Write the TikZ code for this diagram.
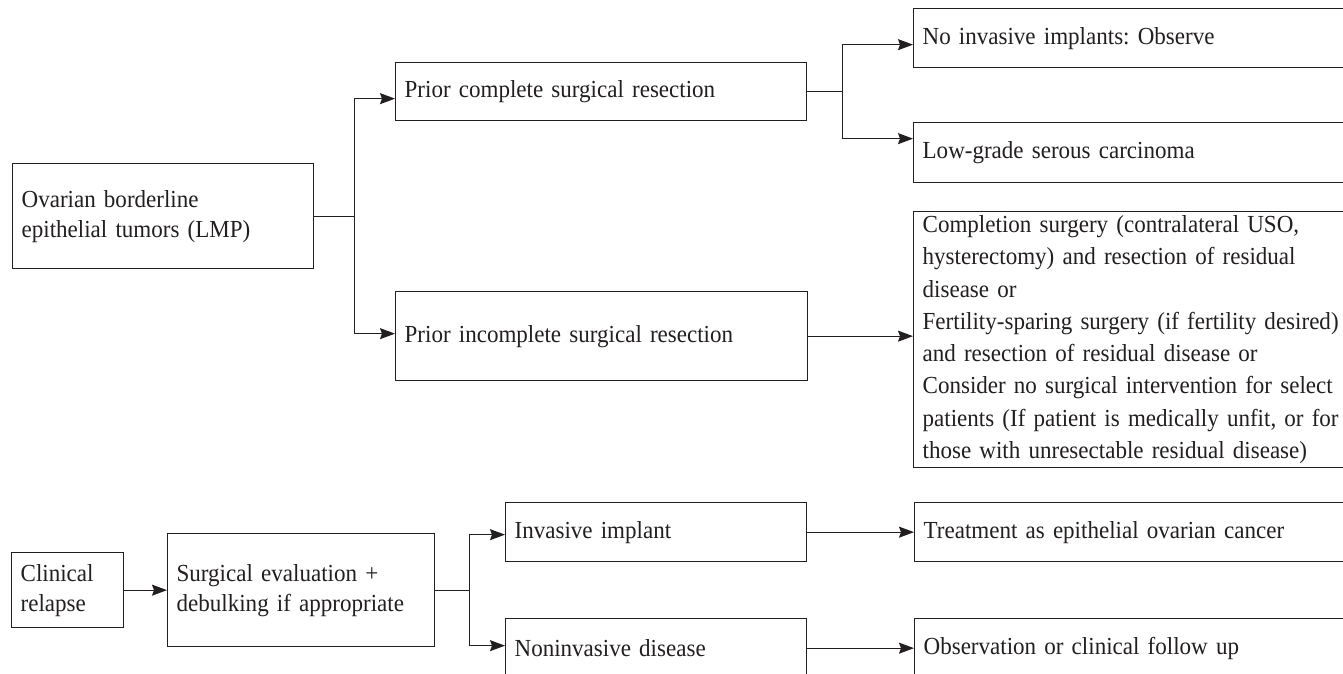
\documentclass[tikz,border=0pt]{standalone}
\usepackage{fontspec}
\setmainfont{Liberation Serif}[FakeStretch=0.94]
\usetikzlibrary{arrows.meta}
\definecolor{ink}{RGB}{35,31,32}
\frenchspacing
\begin{document}
\begin{tikzpicture}[x=1pt,y=-1pt,
  box/.style={draw=ink, line width=1.3pt, rectangle, anchor=north west,
    inner xsep=9pt, inner ysep=0pt, align=left, text=ink,
    font=\fontsize{24.5}{30}\selectfont},
  link/.style={draw=ink, line width=1.3pt,
    -{Stealth[length=15pt,width=11pt,inset=2pt]}}]

\useasboundingbox (0,0) rectangle (1343,673);
\fill[white] (0,0) rectangle (1343,673);
\clip (0,0) rectangle (1343,673);

% upper flow: borderline tumours
\node[box, minimum width=301pt, minimum height=105pt, text width=283pt]
  (ovar) at (12,163) {Ovarian borderline\\epithelial tumors (LMP)};
\node[box, minimum width=411pt, minimum height=58pt, text width=393pt]
  (pc) at (395,62) {Prior complete surgical resection};
\node[box, minimum width=412pt, minimum height=89pt, text width=394pt]
  (pi) at (395,291) {Prior incomplete surgical resection};
\node[box, minimum width=460pt, minimum height=59pt, text width=442pt]
  (noinv) at (913,8) {No invasive implants: Observe};
\node[box, minimum width=460pt, minimum height=60pt, text width=442pt]
  (lowgr) at (913,122) {Low-grade serous carcinoma};
\node[box, minimum width=460pt, minimum height=256pt, text width=442pt,
  font=\fontsize{24.5}{32.3}\selectfont]
  (compl) at (913,211) {Completion surgery (contralateral USO,\\
    hysterectomy) and resection of residual\\
    disease or\\
    Fertility-sparing surgery (if fertility desired)\\
    and resection of residual disease or\\
    Consider no surgical intervention for select\\
    patients (If patient is medically unfit, or for\\
    those with unresectable residual disease)};

% lower flow: relapse
\node[box, minimum width=112pt, minimum height=75pt, text width=94pt]
  (clin) at (11,552) {Clinical\\relapse};
\node[box, minimum width=267pt, minimum height=113pt, text width=249pt]
  (surg) at (167,533) {Surgical evaluation +\\debulking if appropriate};
\node[box, minimum width=301pt, minimum height=59pt, text width=283pt]
  (inv) at (505,502) {Invasive implant};
\node[box, minimum width=301pt, minimum height=59pt, text width=283pt]
  (noninv) at (505,618) {Noninvasive disease};
\node[box, minimum width=460pt, minimum height=59pt, text width=442pt]
  (treat) at (914,502) {Treatment as epithelial ovarian cancer};
\node[box, minimum width=460pt, minimum height=59pt, text width=442pt]
  (obs) at (914,618) {Observation or clinical follow up};

% connectors
\draw[link] (ovar.east) -- ++(40,0) |- ([yshift=-7pt]pc.west);
\draw[link] (ovar.east) -- ++(40,0) |- ([yshift=2.5pt]pi.west);
\draw[link] (pc.east) -- ++(35,0) |- ([yshift=-6.5pt]noinv.west);
\draw[link] (pc.east) -- ++(35,0) |- ([yshift=14pt]lowgr.west);
\draw[link] (pi.east) -- (pi.east -| compl.west);

\draw[link] (clin.east) -- (surg.west);
\draw[link] (surg.east) -- ++(34,0) |- ([yshift=-2.5pt]inv.west);
\draw[link] (surg.east) -- ++(34,0) |- ([yshift=2.5pt]noninv.west);
\draw[link] (inv.east) -- (inv.east -| treat.west);
\draw[link] (noninv.east) -- (noninv.east -| obs.west);
\end{tikzpicture}
\end{document}
